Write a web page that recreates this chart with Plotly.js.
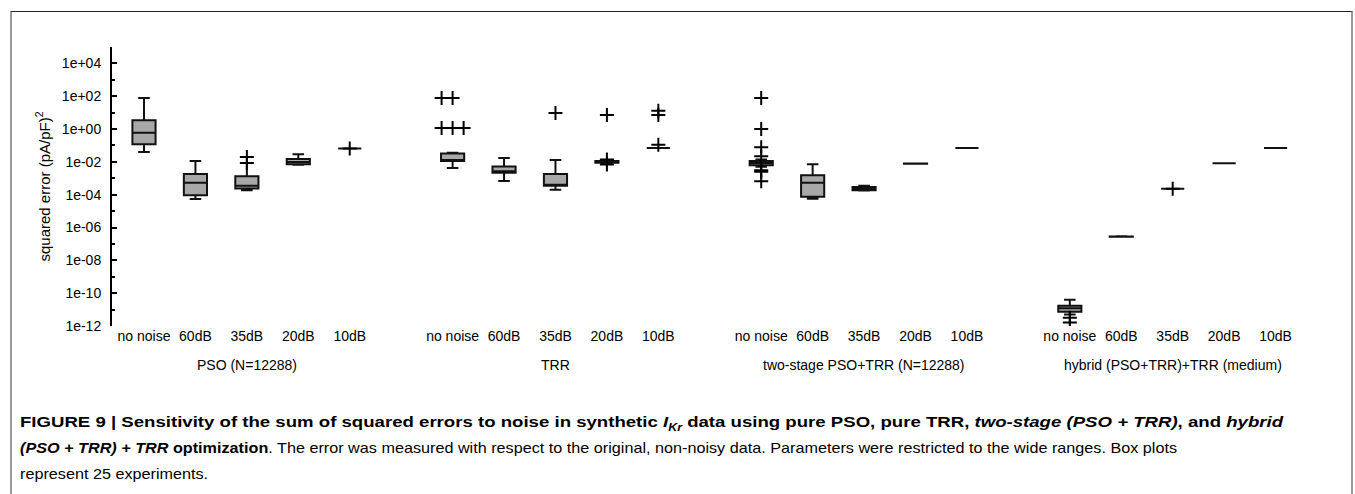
<!DOCTYPE html>
<html>
<head>
<meta charset="utf-8">
<script src="https://cdn.plot.ly/plotly-3.0.1.min.js"></script>
<style>
  html, body { margin: 0; padding: 0; background: #fff; width: 1355px; height: 494px; overflow: hidden; }
  #frame { position: absolute; left: 10px; top: 11px; width: 1339px; height: 600px;
           border-top: 1px solid #222; border-left: 2px solid #9a9a9a; border-right: 2px solid #9a9a9a; }
  #chart { position: absolute; left: 0; top: 0; width: 1355px; height: 390px; }
  .cap { position: absolute; left: 20px; white-space: nowrap; font-family: "Liberation Sans", Arial, sans-serif;
         font-size: 15px; color: #000; transform-origin: 0 50%; }
  .cap b { font-weight: bold; }
</style>
</head>
<body>
<div id="frame"></div>
<div id="chart"></div>
<div class="cap" id="cap1" style="top:413px"><b>FIGURE 9 | Sensitivity of the sum of squared errors to noise in synthetic <i>I</i><sub style="font-size:10px"><i>Kr</i></sub> data using pure PSO, pure TRR, <i>two-stage (PSO + TRR)</i>, and <i>hybrid</i></b></div>
<div class="cap" id="cap2" style="top:439px"><b><i>(PSO + TRR) + TRR</i> optimization</b>. The error was measured with respect to the original, non-noisy data. Parameters were restricted to the wide ranges. Box plots</div>
<div class="cap" id="cap3" style="top:465px">represent 25 experiments.</div>
<script>
// ---- data ----
const categories = ['no noise', '60dB', '35dB', '20dB', '10dB'];
const groups = ['PSO (N=12288)', 'TRR', 'two-stage PSO+TRR (N=12288)', 'hybrid (PSO+TRR)+TRR (medium)'];
const yTickLabels = ['1e-12', '1e-10', '1e-08', '1e-06', '1e-04', '1e-02', '1e+00', '1e+02', '1e+04'];

// PSO (N=12288)
const psoLower  = [0.04,  5.4e-5, 1.9e-4,  0.0066, 0.065];
const psoQ1     = [0.12,  9.3e-5, 2.4e-4,  0.0072, 0.065];
const psoMedian = [0.6,   5.3e-4, 3.5e-4,  0.0100, 0.065];
const psoQ3     = [3.4,   1.8e-3, 1.35e-3, 0.015,  0.065];
const psoUpper  = [78,    0.0115, 0.0087,  0.029,  0.065];
const psoOutliers = [[], [], [0.02, 0.0087], [], [0.065]];

// TRR
const trrLower  = [0.0043, 6.9e-4, 2.0e-4, 0.0082, 0.071];
const trrQ1     = [0.0115, 0.0022, 3.5e-4, 0.0088, 0.071];
const trrMedian = [0.0118, 0.0027, 3.6e-4, 0.0098, 0.071];
const trrQ3     = [0.032,  0.0052, 1.8e-3, 0.0112, 0.071];
const trrUpper  = [0.036,  0.017,  0.013,  0.012,  0.071];
const trrOutliers = [[78, 78, 1.16, 1.16, 1.16], [], [9.5], [7.2, 0.014, 0.007], [13, 7.2, 0.11]];

// two-stage PSO+TRR (N=12288)
const twoLower  = [0.005,  5.6e-5, 1.8e-4, 0.0077, 0.071];
const twoQ1     = [0.0063, 7.4e-5, 1.9e-4, 0.0077, 0.071];
const twoMedian = [0.0087, 5.3e-4, 2.3e-4, 0.0079, 0.071];
const twoQ3     = [0.0115, 1.55e-3, 2.9e-4, 0.0081, 0.071];
const twoUpper  = [0.0138, 0.0072, 3.5e-4, 0.0081, 0.071];
const twoOutliers = [[78, 1.0, 0.078, 0.022, 0.0031, 0.0025, 6.6e-4], [], [], [], []];

// hybrid (PSO+TRR)+TRR (medium)
const hybLower  = [5.0e-12, 2.7e-7,  2.3e-4, 0.0083, 0.071];
const hybQ1     = [7.4e-12, 2.7e-7,  2.3e-4, 0.0083, 0.071];
const hybMedian = [1.2e-11, 2.75e-7, 2.3e-4, 0.0083, 0.071];
const hybQ3     = [1.7e-11, 2.8e-7,  2.3e-4, 0.0083, 0.071];
const hybUpper  = [4.0e-11, 2.9e-7,  2.3e-4, 0.0083, 0.071];
const hybOutliers = [[3.2e-12, 1.6e-12], [], [2.3e-4], [], []];

// ---- build ----
const stats = [
  [psoLower, psoQ1, psoMedian, psoQ3, psoUpper, psoOutliers],
  [trrLower, trrQ1, trrMedian, trrQ3, trrUpper, trrOutliers],
  [twoLower, twoQ1, twoMedian, twoQ3, twoUpper, twoOutliers],
  [hybLower, hybQ1, hybMedian, hybQ3, hybUpper, hybOutliers]
];
const GROUP_STEP = categories.length + 1;
const pos = (g, c) => g * GROUP_STEP + c;

const bx = [], lo = [], q1 = [], md = [], q3 = [], up = [];
const ox = [], oy = [];
const DUP_OFFSET = 0.214;
stats.forEach((s, g) => {
  categories.forEach((cat, c) => {
    bx.push(pos(g, c));
    lo.push(s[0][c]); q1.push(s[1][c]); md.push(s[2][c]); q3.push(s[3][c]); up.push(s[4][c]);
    const outs = s[5][c];
    const counts = {};
    outs.forEach(v => { counts[v] = (counts[v] || 0) + 1; });
    const seen = {};
    outs.forEach(v => {
      const n = counts[v];
      const i = seen[v] || 0; seen[v] = i + 1;
      ox.push(pos(g, c) + (i - Math.floor(n / 2)) * DUP_OFFSET);
      oy.push(v);
    });
  });
});

const tickPos = [], tickText = [];
groups.forEach((gname, g) => categories.forEach((cat, c) => { tickPos.push(pos(g, c)); tickText.push(cat); }));

const majorVals = yTickLabels.map(t => Number(t));
const minorVals = majorVals.map(v => v * 10);

const traces = [
  {
    type: 'box', x: bx, lowerfence: lo, q1: q1, median: md, q3: q3, upperfence: up,
    boxpoints: false, width: 0.45, whiskerwidth: 0.5,
    fillcolor: '#a8a8a8', line: { color: '#111', width: 2 },
    hoverinfo: 'skip', showlegend: false
  },
  {
    type: 'scatter', mode: 'markers', x: ox, y: oy,
    marker: { symbol: 'cross-thin', size: 10, line: { color: '#000', width: 2 } },
    hoverinfo: 'skip', showlegend: false
  }
];

const FONT = '"Liberation Sans", Arial, sans-serif';
const layout = {
  width: 1355, height: 390,
  margin: { l: 112, r: 28, t: 47, b: 64 },
  paper_bgcolor: 'rgba(0,0,0,0)', plot_bgcolor: 'rgba(0,0,0,0)',
  font: { family: FONT, size: 14, color: '#000' },
  showlegend: false,
  xaxis: {
    range: [-0.622, 23], showline: false, showgrid: false, zeroline: false,
    tickmode: 'array', tickvals: tickPos, ticktext: tickText, ticks: '',
    tickfont: { family: FONT, size: 14, color: '#000' }
  },
  yaxis: {
    type: 'log', range: [-12.003, 5.003],
    showline: true, linecolor: '#000', linewidth: 2, showgrid: false, zeroline: false,
    tickmode: 'array', tickvals: majorVals, ticktext: yTickLabels,
    ticks: 'inside', ticklen: 5, tickwidth: 2, tickcolor: '#000', ticklabelstandoff: 6,
    tickfont: { family: FONT, size: 14, color: '#000' },
    minor: { tickmode: 'array', tickvals: minorVals, ticks: 'inside', ticklen: 3, tickwidth: 2, tickcolor: '#000' },
    title: { text: 'squared error (pA/pF)<sup>2</sup>', font: { family: FONT, size: 15, color: '#000' }, standoff: 8 }
  },
  annotations: groups.map((gname, g) => ({
    text: gname, x: pos(g, (categories.length - 1) / 2), xref: 'x', y: 0, yref: 'paper',
    yanchor: 'middle', yshift: -39, showarrow: false, font: { family: FONT, size: 14, color: '#000' }
  }))
};

Plotly.newPlot('chart', traces, layout, { staticPlot: true, displayModeBar: false });

// caption: fit the two full lines to their widths in the reference figure, last line uses line 2's scale
const capTargets = { cap1: 1263, cap2: 1157 };
let lastScale = 1;
Object.keys(capTargets).forEach(id => {
  const el = document.getElementById(id);
  const w = el.getBoundingClientRect().width;
  if (w > 0) { lastScale = capTargets[id] / w; el.style.transform = 'scaleX(' + lastScale.toFixed(4) + ')'; }
});
document.getElementById('cap3').style.transform = 'scaleX(' + lastScale.toFixed(4) + ')';
</script>
</body>
</html>
